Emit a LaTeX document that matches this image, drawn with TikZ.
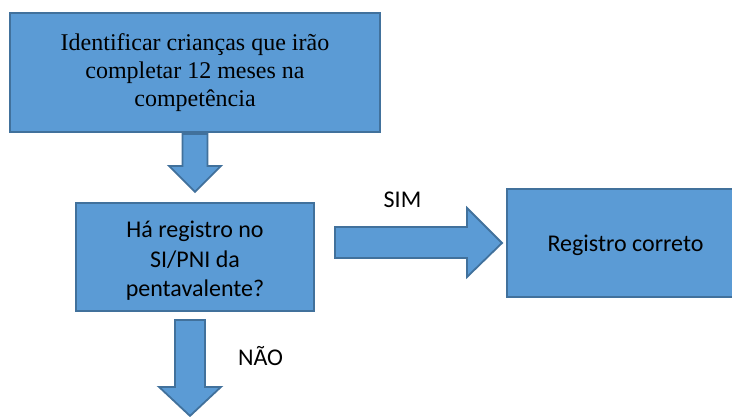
\documentclass[tikz,border=0pt]{standalone}
\usepackage{fontspec}
\setmainfont{Carlito}
\newfontfamily\timesfont{Liberation Serif}
\usetikzlibrary{calc}
\definecolor{boxfill}{HTML}{5B9BD5}
\definecolor{boxline}{HTML}{41719C}
\tikzset{
  box/.style={draw=boxline, fill=boxfill, line width=1.8pt, inner sep=0pt, align=center, text=black},
  blockarrow/.style={draw=boxline, fill=boxfill, line width=1.8pt, line join=miter},
  lbl/.style={inner sep=0pt, text=black, align=center, font=\fontsize{24}{29.5}\selectfont}
}
\begin{document}
\begin{tikzpicture}[x=1pt, y=-1pt]
\useasboundingbox (0,0) rectangle (732,416);
\fill[white] (0,0) rectangle (732,416);
\node[box, minimum width=370pt, minimum height=119pt,
      font=\timesfont\fontsize{24}{28}\selectfont] (top) at (195,72.5)
  {Identificar crianças que irão\\completar 12 meses na\\competência};
\node[box, minimum width=238pt, minimum height=108pt] (q) at (195,257) {};
\node[lbl] (qtext) at (195,261) {Há registro no\\SI/PNI da\\pentavalente?};
\node[box, minimum width=280pt, minimum height=108pt, anchor=west] (ok) at (506,243) {};
\node[lbl] (oktext) at (625.5,245) {Registro correto};
% arrow from top box to question
\draw[blockarrow] ($(top.south)+(-12.5,1)$) -- ($(top.south)+(-12.5,33)$)
  -- ($(top.south)+(-26,33)$) -- ($(top.south)+(0,59)$)
  -- ($(top.south)+(26,33)$) -- ($(top.south)+(12.5,33)$)
  -- ($(top.south)+(12.5,1)$) -- cycle;
% SIM arrow
\draw[blockarrow] ($(ok.west)+(-171,-16)$) -- ($(ok.west)+(-39,-16)$)
  -- ($(ok.west)+(-39,-35)$) -- ($(ok.west)+(-4,0)$)
  -- ($(ok.west)+(-39,34)$) -- ($(ok.west)+(-39,15)$)
  -- ($(ok.west)+(-171,15)$) -- cycle;
% NAO arrow
\draw[blockarrow] ($(q.south)+(-20,8)$) -- ($(q.south)+(-20,75)$)
  -- ($(q.south)+(-36,75)$) -- ($(q.south)+(-5,104)$)
  -- ($(q.south)+(26,75)$) -- ($(q.south)+(10,75)$)
  -- ($(q.south)+(10,8)$) -- cycle;
\node[lbl] (sim) at (402.5,200) {SIM};
\node[lbl] (nao) at (260.5,356) {NÃO};
\end{tikzpicture}
\end{document}
